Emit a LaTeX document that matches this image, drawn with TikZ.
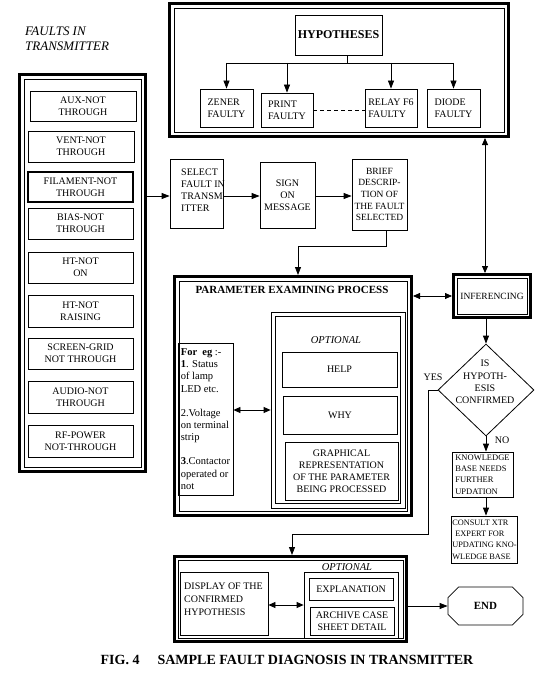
\documentclass[tikz,border=0pt]{standalone}
\usepackage{fontspec}
\setmainfont{Liberation Serif}
\usetikzlibrary{arrows.meta,shapes.geometric,shapes.misc,calc}
\newcommand\fsz[2]{\fontsize{#1}{#2}\selectfont}
\newcommand\innerline[2]{\draw[line width=0.8pt] ($(#1.north west)+(#2,#2)$) rectangle ($(#1.south east)-(#2,#2)$);}
\begin{document}
\begin{tikzpicture}[x=1pt,y=-1pt,
  box/.style={draw,line width=0.8pt,inner sep=1pt,align=center,font=\fsz{10}{12}},
  lbox/.style={box,align=left},
  sz/.style 2 args={minimum width=#1pt,minimum height=#2pt},
  thickbox/.style={draw,line width=3pt,inner sep=0pt},
  arr/.style={line width=0.8pt,-{Triangle[length=8pt,width=6pt]}},
  darr/.style={line width=0.8pt,{Triangle[length=7pt,width=6pt]}-{Triangle[length=7pt,width=6pt]}},
  ln/.style={line width=0.8pt},
  lbl/.style={inner sep=0pt,align=left,font=\fsz{10}{12}}]
\useasboundingbox (0,0) rectangle (549,674);

% ---------- Hypotheses ----------
\node[thickbox,sz={339}{133}] (hyp) at (339,70) {};
\innerline{hyp}{6}
\node[box,sz={87}{40},font=\bfseries\fsz{12}{14}] (hypt) at (338.5,35) {HYPOTHESES};
\node[lbox,sz={53}{38}] (zener) at (226.5,108) {ZENER\\FAULTY};
\node[lbox,sz={52}{34}] (print) at (287,110) {PRINT\\FAULTY};
\node[lbox,sz={52}{38}] (relay) at (391,108) {RELAY F6\\FAULTY};
\node[lbox,sz={53}{38}] (diode) at (453.5,108) {DIODE\\FAULTY};
\coordinate (hs) at (347,63);
\draw[ln] (hs |- hypt.south) -- (hs);
\draw[ln] (zener.north |- hs) -- (diode.north |- hs);
\foreach \n in {zener,print,relay,diode}
  \draw[arr] (\n.north |- hs) -- (\n.north);
\draw[ln,dashed,dash pattern=on 4pt off 3pt] (print.east) -- (print.east -| relay.west);

% ---------- Faults in transmitter ----------
\node[anchor=north west,align=left,inner sep=0pt,font=\itshape\fsz{13}{14.5}] (ttl) at (25,27) {FAULTS IN\\TRANSMITTER};
\node[thickbox,sz={126}{397}] (left) at (82.5,273) {};
\innerline{left}{6}
\node[box,sz={106}{30}] (aux) at (83,106) {AUX-NOT\\THROUGH};
\node[box,sz={106}{31}] (vent) at (81,146.5) {VENT-NOT\\THROUGH};
\node[box,sz={105}{30},line width=2pt] (fil) at (80.5,187) {FILAMENT-NOT\\THROUGH};
\node[box,sz={105}{31}] (bias) at (80.5,223.5) {BIAS-NOT\\THROUGH};
\node[box,sz={105}{31}] (hton) at (80.5,267.5) {HT-NOT\\ON};
\node[box,sz={105}{32}] (htr) at (80.5,311) {HT-NOT\\RAISING};
\node[box,sz={105}{31}] (scr) at (80.5,353.5) {SCREEN-GRID\\NOT THROUGH};
\node[box,sz={105}{32}] (aud) at (80.5,397) {AUDIO-NOT\\THROUGH};
\node[box,sz={105}{32}] (rf) at (80.5,441) {RF-POWER\\NOT-THROUGH};

% ---------- Select / sign / brief ----------
\node[box,sz={53}{69}] (select) at (196.5,193.5) {};
\node[lbl,anchor=north west] (selt) at (181,169) {SELECT\\FAULT IN\\TRANSM-\\ITTER};
\node[box,sz={55}{66}] (sign) at (287.5,195) {SIGN\\ON\\MESSAGE};
\node[box,sz={55}{71},font=\fsz{9.5}{11.7}] (brief) at (379.5,194.5) {BRIEF\\DESCRIP-\\TION OF\\THE FAULT\\SELECTED};
\draw[arr] (left.east |- 0,196) -- (select.west |- 0,196);
\draw[arr] (select.east |- 0,196) -- (sign.west |- 0,196);
\draw[arr] (sign.east |- 0,196) -- (brief.west |- 0,196);

% ---------- Parameter examining process ----------
\node[thickbox,sz={237}{239}] (param) at (293,396) {};
\innerline{param}{6}
\node[font=\bfseries\fsz{11}{13}] (ptitle) at (292,290) {PARAMETER EXAMINING PROCESS};
\coordinate (bk) at (386,246);
\draw[arr] (bk |- brief.south) -- (bk) -| ([xshift=5pt]param.north);
\node[box,sz={55}{152},align=left,font=\fsz{10.5}{12.2},inner sep=2pt] (foreg) at (205.5,419)
  {\textbf{For\ \ eg} :-\\\textbf{1}. Status\\of lamp\\LED etc.\\[12pt]2.Voltage\\on terminal\\strip\\[12pt]\textbf{3}.Contactor\\operated or\\not};
\node[box,sz={134}{196}] (opt) at (338,410) {};
\innerline{opt}{5}
\node[font=\itshape\fsz{10.5}{12}] (optl) at (336,340) {OPTIONAL};
\node[box,sz={115}{35}] (help) at (339.5,369.5) {HELP};
\node[box,sz={114}{38}] (why) at (340,415) {WHY};
\node[box,sz={113}{58}] (graph) at (341.5,471) {GRAPHICAL\\REPRESENTATION\\OF THE PARAMETER\\BEING PROCESSED};
\draw[darr] (opt.west -| foreg.east) -- (opt.west);

% ---------- Inferencing ----------
\node[thickbox,sz={77}{43},font=\fsz{9.5}{11}] (infer) at (492,296) {INFERENCING};
\innerline{infer}{5}
\draw[darr] (param.east |- infer.west) -- (infer.west);
\coordinate (vx) at (485,200);
\draw[darr] (vx |- hyp.south) -- (vx |- infer.north);

\node[diamond,draw,line width=0.8pt,minimum width=96pt,minimum height=92pt,inner sep=0pt] (dia) at (486,390) {};
\node[align=center,inner sep=0pt,font=\fsz{10}{12.3}] (diat) at (485,382) {IS\\HYPOTH-\\ESIS\\CONFIRMED};
\draw[arr] (dia.north |- infer.south) -- (dia.north);
\node[font=\fsz{10}{12}] (yes) at (433,377) {YES};
\node[font=\fsz{10}{12}] (no) at (502,440) {NO};

\node[lbox,sz={61}{45},font=\fsz{8.5}{11.3}] (kb) at (482.5,474.5) {KNOWLEDGE\\BASE NEEDS\\FURTHER\\UPDATION};
\node[lbox,sz={65}{47},font=\fsz{8.3}{11.3}] (cons) at (484.5,539.5) {CONSULT XTR\\\hspace{3pt}EXPERT FOR\\UPDATING KNO-\\WLEDGE BASE};
\draw[arr] (dia.south) -- (dia.south |- kb.north);
\draw[arr] (dia.south |- kb.south) -- (dia.south |- cons.north);

% ---------- Bottom ----------
\node[thickbox,sz={232}{85}] (bottom) at (290.5,599) {};
\innerline{bottom}{5}
\coordinate (yk) at (428,534);
\draw[arr] (dia.west) -| (yk) -| ([xshift=1.5pt]bottom.north);
\node[box,sz={88}{63}] (disp) at (224,603.5) {};
\node[lbl,anchor=north west,font=\fsz{10}{13}] (dispt) at (184,583) {DISPLAY OF THE\\CONFIRMED\\HYPOTHESIS};
\node[font=\itshape\fsz{10.5}{12}] (optl2) at (347,567) {OPTIONAL};
\node[box,sz={94}{66}] (opt2) at (351,605) {};
\node[box,sz={84}{22}] (expl) at (351,589) {EXPLANATION};
\node[box,sz={84}{28}] (arch) at (352,621) {ARCHIVE CASE\\SHEET DETAIL};
\draw[darr] (opt2.west -| disp.east) -- (opt2.west);
\node[draw,line width=0.8pt,chamfered rectangle,chamfered rectangle xsep=7pt,chamfered rectangle ysep=7pt,minimum width=75pt,minimum height=38pt,inner sep=0pt,font=\bfseries\fsz{11}{13}] (end) at (485.5,606) {END};
\draw[arr] (bottom.east |- end.west) -- (end.west);

% ---------- Caption ----------
\node[font=\bfseries\fsz{14}{16}] (cap) at (287,660) {FIG. 4\hspace{18pt}SAMPLE FAULT DIAGNOSIS IN TRANSMITTER};
\end{tikzpicture}
\end{document}
